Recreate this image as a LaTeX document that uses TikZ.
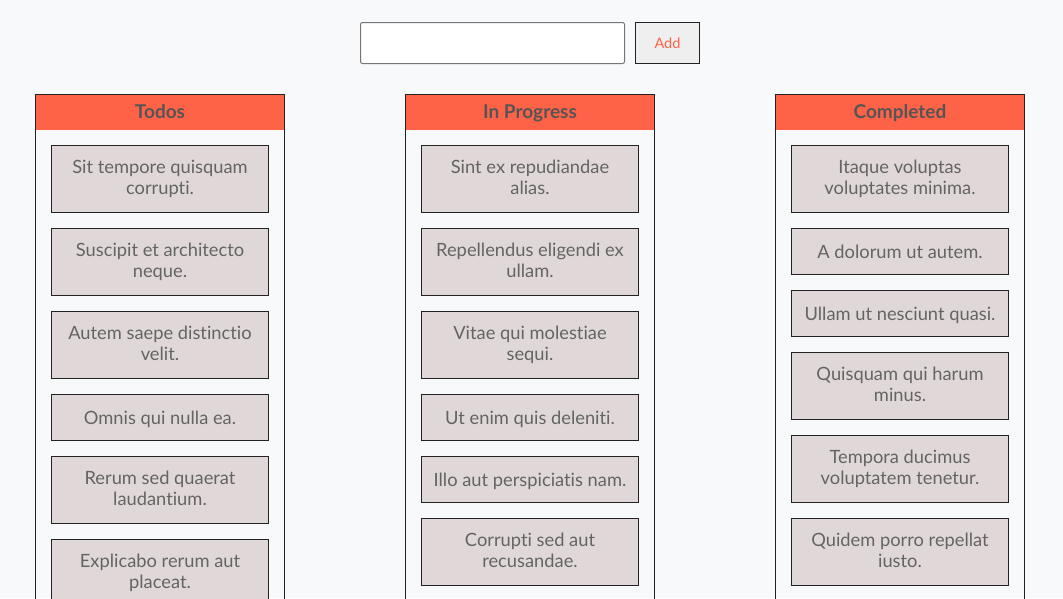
\documentclass[tikz,border=0pt]{standalone}
\usepackage{fontspec}
\setmainfont{Lato}[Ligatures={NoCommon}]
\usetikzlibrary{positioning}
\definecolor{tomato}{RGB}{255,99,71}
\definecolor{pagebg}{RGB}{248,249,251}
\definecolor{cardfill}{RGB}{224,216,216}
\definecolor{cardtext}{RGB}{100,100,100}
\definecolor{headtext}{RGB}{85,85,85}
\definecolor{frame}{RGB}{34,34,34}
\definecolor{inputline}{RGB}{118,118,118}
\definecolor{btnfill}{RGB}{239,239,239}

\begin{document}
\begin{tikzpicture}[x=1pt,y=-1pt,line width=1pt,
  colhead/.style={fill=tomato, text=headtext, minimum width=249pt, minimum height=35pt, outer sep=0pt, font=\fontsize{19}{22}\selectfont\bfseries, execute at begin node={\rule[-4.6pt]{0pt}{22pt}}},
  card/.style={draw=frame, fill=cardfill, text=cardtext, minimum width=217pt, minimum height=67pt, outer sep=0pt, inner sep=0pt, align=center, font=\fontsize{18.3}{21}\selectfont, execute at begin node={\rule{0pt}{17.7pt}}, execute at end node={\rule[-3.3pt]{0pt}{3.3pt}}},
  short/.style={minimum height=46pt},
  node distance=16pt]
\useasboundingbox (0,0) rectangle (1063,598);
\clip (0,0) rectangle (1063,598);
\fill[pagebg] (0,0) rectangle (1063,598);
% input and button
\node[draw=inputline, fill=white, rounded corners=2pt, minimum width=264pt, minimum height=41pt, outer sep=0pt] (input) at (492.5,43) {};
\node[draw=frame, fill=btnfill, text=tomato, minimum width=64pt, minimum height=41pt, outer sep=0pt, font=\fontsize{14.5}{16}\selectfont, execute at begin node={\rule[-1.6pt]{0pt}{13.6pt}}] (add) at (667.5,43) {Add};
% column headers
\node[colhead] (todos) at (160,112) {Todos};
\node[colhead] (progress) at (530,112) {In Progress};
\node[colhead] (completed) at (900,112) {Completed};
\foreach \col in {todos,progress,completed}
  \draw[frame] (\col.south west) -- (\col.north west) -- (\col.north east) -- (\col.south east) -- ++(0,500) (\col.south west) -- ++(0,500);
% todos
\node[card, below=15.5pt of todos] (todo1) {Sit tempore quisquam\\corrupti.};
\node[card, below=of todo1] (todo2) {Suscipit et architecto\\neque.};
\node[card, below=of todo2] (todo3) {Autem saepe distinctio\\velit.};
\node[card, short, below=of todo3] (todo4) {Omnis qui nulla ea.};
\node[card, below=of todo4] (todo5) {Rerum sed quaerat\\laudantium.};
\node[card, below=of todo5] (todo6) {Explicabo rerum aut\\placeat.};
% in progress
\node[card, below=15.5pt of progress] (prog1) {Sint ex repudiandae\\alias.};
\node[card, below=of prog1] (prog2) {Repellendus eligendi ex\\ullam.};
\node[card, below=of prog2] (prog3) {Vitae qui molestiae\\sequi.};
\node[card, short, below=of prog3] (prog4) {Ut enim quis deleniti.};
\node[card, short, below=of prog4] (prog5) {Illo aut perspiciatis nam.};
\node[card, below=of prog5] (prog6) {Corrupti sed aut\\recusandae.};
% completed
\node[card, below=15.5pt of completed] (done1) {Itaque voluptas\\voluptates minima.};
\node[card, short, below=of done1] (done2) {A dolorum ut autem.};
\node[card, short, below=of done2] (done3) {Ullam ut nesciunt quasi.};
\node[card, below=of done3] (done4) {Quisquam qui harum\\minus.};
\node[card, below=of done4] (done5) {Tempora ducimus\\voluptatem tenetur.};
\node[card, below=of done5] (done6) {Quidem porro repellat\\iusto.};
\end{tikzpicture}
\end{document}
